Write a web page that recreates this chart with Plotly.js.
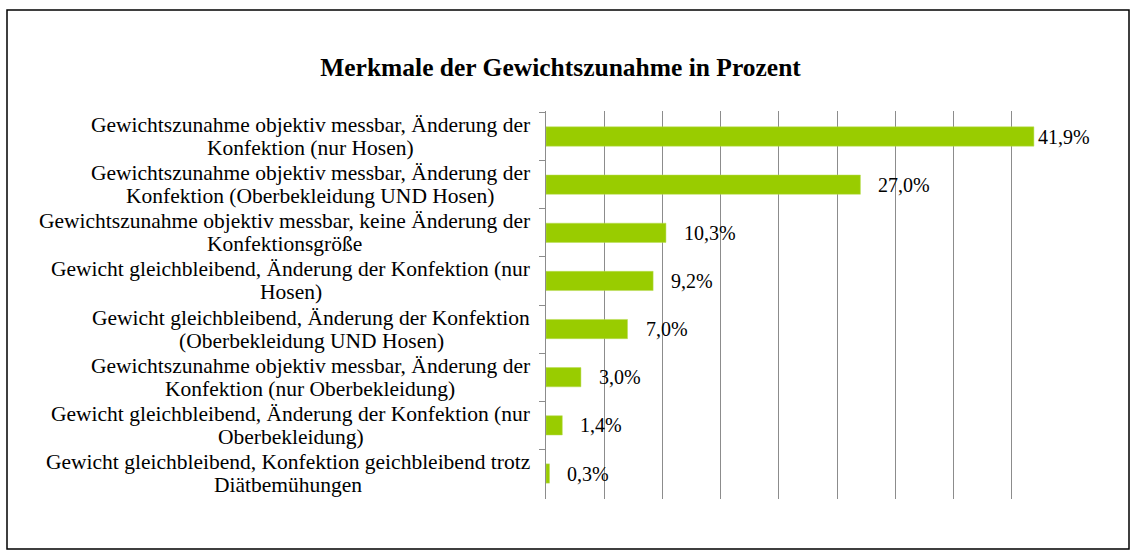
<!DOCTYPE html>
<html>
<head>
<meta charset="utf-8">
<script src="https://cdn.plot.ly/plotly-3.0.1.min.js"></script>
<style>html,body{margin:0;padding:0;background:#fff;}#chart{width:1137px;height:559px;}</style>
</head>
<body>
<div id="chart"></div>
<script>
const categories = [
  "Gewichtszunahme objektiv messbar, Änderung der<br>Konfektion (nur Hosen)",
  "Gewichtszunahme objektiv messbar, Änderung der<br>Konfektion (Oberbekleidung UND Hosen)",
  "Gewichtszunahme objektiv messbar, keine Änderung der<br>Konfektionsgröße",
  "Gewicht gleichbleibend, Änderung der Konfektion (nur<br>Hosen)",
  "Gewicht gleichbleibend, Änderung der Konfektion<br>(Oberbekleidung UND Hosen)",
  "Gewichtszunahme objektiv messbar, Änderung der<br>Konfektion (nur Oberbekleidung)",
  "Gewicht gleichbleibend, Änderung der Konfektion (nur<br>Oberbekleidung)",
  "Gewicht gleichbleibend, Konfektion geichbleibend trotz<br>Diätbemühungen"
];
const values = [41.9, 27.0, 10.3, 9.2, 7.0, 3.0, 1.4, 0.3];
const valueLabels = ["41,9%", "27,0%", "10,3%", "9,2%", "7,0%", "3,0%", "1,4%", "0,3%"];
const titleText = "Merkmale der Gewichtszunahme in Prozent";

// style: horizontal offset of each value label from the bar end (px)
const labelShift = [2, 16, 16, 16, 16, 16, 16, 16];

const FONT = "Liberation Serif, Times New Roman, serif";
const CAT_SIZE = 21.5;
const VAL_SIZE = 20;
const LINE_GAP = 23;

const ctx = document.createElement('canvas').getContext('2d');
ctx.font = CAT_SIZE + "px 'Liberation Serif'";

const annotations = [];
categories.forEach((c, i) => {
  const lines = c.split('<br>');
  const maxW = Math.max(...lines.map(l => ctx.measureText(l).width));
  lines.forEach((ln, j) => {
    annotations.push({
      xref: 'paper', yref: 'y', x: 0, y: c, xanchor: 'center', yanchor: 'middle',
      xshift: -16 - maxW / 2, yshift: (lines.length - 1) * LINE_GAP / 2 - j * LINE_GAP,
      text: ln, showarrow: false,
      font: {family: FONT, size: CAT_SIZE, color: '#000'}
    });
  });
  annotations.push({
    xref: 'x', yref: 'y', x: values[i], y: c, xanchor: 'left', yanchor: 'middle',
    xshift: labelShift[i], text: valueLabels[i], showarrow: false,
    font: {family: FONT, size: VAL_SIZE, color: '#000'}
  });
});

const data = [{
  type: 'bar', orientation: 'h',
  x: values, y: categories,
  marker: {color: '#99cc00', line: {color: '#b8dc55', width: 0.5}},
  width: 0.4,
  hoverinfo: 'none'
}];

const layout = {
  width: 1137, height: 559,
  margin: {l: 546, r: 67, t: 111, b: 60, pad: 0},
  paper_bgcolor: '#fff', plot_bgcolor: '#fff',
  showlegend: false,
  title: {text: '<b>' + titleText + '</b>', x: 0.493, xanchor: 'center', y: 0.88, yanchor: 'middle',
          font: {family: FONT, size: 25.5, color: '#000'}},
  xaxis: {range: [0, 45], dtick: 5, tick0: 0, showgrid: true, gridcolor: '#8c8c8c', gridwidth: 1,
          showticklabels: false, zeroline: false, showline: false, ticks: '', fixedrange: true},
  yaxis: {autorange: 'reversed', showticklabels: false, showline: true, linecolor: '#8c8c8c', linewidth: 1,
          ticks: 'outside', tickson: 'boundaries', ticklen: 6, tickcolor: '#8c8c8c', showgrid: false,
          zeroline: false, fixedrange: true},
  annotations: annotations,
  shapes: [{type: 'rect', xref: 'paper', yref: 'paper',
            x0: (7 - 546) / 524, x1: (1129 - 546) / 524,
            y0: (499 - 549) / 388, y1: (499 - 10) / 388,
            line: {color: '#000', width: 1.5}, fillcolor: 'rgba(0,0,0,0)', layer: 'below'}],
  font: {family: FONT}
};

Plotly.newPlot('chart', data, layout, {displayModeBar: false, staticPlot: true});
</script>
</body>
</html>
